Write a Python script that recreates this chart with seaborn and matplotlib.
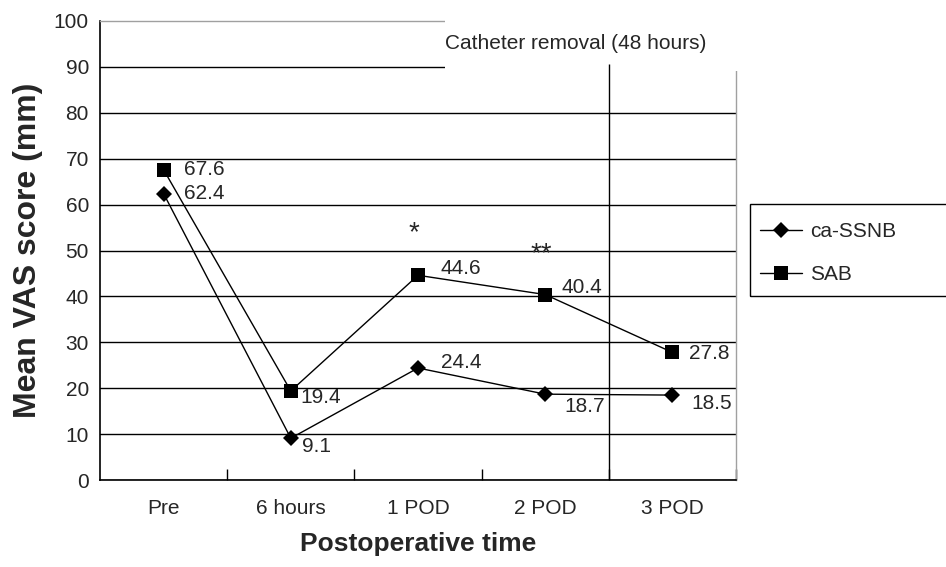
import pandas as pd
import seaborn as sns
import matplotlib.pyplot as plt
from matplotlib.patches import Rectangle
from matplotlib.lines import Line2D

# data
times = ['Pre', '6 hours', '1 POD', '2 POD', '3 POD']
ssnb = [62.4, 9.1, 24.4, 18.7, 18.5]
sab = [67.6, 19.4, 44.6, 40.4, 27.8]
groups = ['ca-SSNB', 'SAB']
stars = ['', '', '*', '**', '']

# label offsets (points) for value labels
ssnb_offs = [(15, 0), (8, -6), (16.5, 4), (14, -9), (14, -6)]
sab_offs = [(15, 0), (7, -5), (16.5, 5), (12, 5), (12, -1)]

sns.set_style('white')
plt.rcParams['font.family'] = ['Liberation Sans', 'DejaVu Sans']

df = pd.DataFrame({
  'time': times * 2,
  'score': ssnb + sab,
  'group': [groups[0]] * len(times) + [groups[1]] * len(times),
})

fig = plt.figure(figsize=(9.46, 5.67), dpi=100)
ax = fig.add_axes([100 / 946, 1 - 480 / 567, 636 / 946, 459 / 567])

sns.lineplot(data=df[df['group'] == groups[0]], x='time', y='score', color='black',
             marker='D', markersize=8.5, markeredgewidth=0, linewidth=1, sort=False, ax=ax)
sns.lineplot(data=df[df['group'] == groups[1]], x='time', y='score', color='black',
             marker='s', markersize=10.5, markeredgewidth=0, linewidth=1, sort=False, ax=ax)

for i, (v, o) in enumerate(zip(ssnb, ssnb_offs)):
  ax.annotate(f'{v}', xy=(i, v), xytext=o, textcoords='offset points',
              ha='left', va='center', fontsize=15)
for i, (v, o) in enumerate(zip(sab, sab_offs)):
  ax.annotate(f'{v}', xy=(i, v), xytext=o, textcoords='offset points',
              ha='left', va='center', fontsize=15)

# significance marks
star_y = {2: 52.3, 3: 47.7}
for i, s in enumerate(stars):
  if s:
    ax.text(i - 0.03, star_y[i], s, ha='center', va='baseline', fontsize=20)

ax.set_xlim(-0.5, 4.5)
ax.set_ylim(0, 100)
ax.set_xticks(range(len(times)))
ax.set_xticklabels(times)
ax.set_xticks([0.5, 1.5, 2.5, 3.5, 4.5], minor=True)
ax.set_yticks(range(0, 101, 10))
ax.tick_params(axis='x', which='major', length=0, pad=14, labelsize=15)
ax.tick_params(axis='x', which='minor', bottom=True, direction='in', length=8, width=1,
               color='black')
ax.tick_params(axis='y', length=0, pad=8, labelsize=15)

ax.yaxis.grid(True, color='black', linewidth=1)
ax.get_ygridlines()[-1].set_visible(False)
ax.set_axisbelow(True)

for side in ['left', 'bottom']:
  ax.spines[side].set_color('black')
  ax.spines[side].set_linewidth(1.2)
for side in ['top', 'right']:
  ax.spines[side].set_color('#a0a0a0')
  ax.spines[side].set_linewidth(1)

ax.set_xlabel('Postoperative time', fontsize=19, fontweight='bold', labelpad=10)
ax.set_ylabel('Mean VAS score (mm)', fontsize=23, fontweight='bold', labelpad=8)

# catheter removal box
ax.add_patch(Rectangle((2.212, 89.0), 2.5, 12, facecolor='white', edgecolor='none',
                       zorder=3.5, clip_on=False))
ax.vlines(3.5, 0, 90.6, color='black', linewidth=1, zorder=4)
ax.text(2.212, 95.2, 'Catheter removal (48 hours)', ha='left', va='center',
        fontsize=15, zorder=5)

handles = [
  Line2D([], [], color='black', lw=1, marker='D', markersize=8.5, markeredgewidth=0),
  Line2D([], [], color='black', lw=1, marker='s', markersize=10.5, markeredgewidth=0),
]
fig.legend(handles, groups, loc='upper left', bbox_to_anchor=(760 / 946, 1 - 222 / 567),
           frameon=False, fontsize=15, handlelength=2, handletextpad=0.4,
           labelspacing=1.15, borderpad=0, borderaxespad=0)
fig.add_artist(Rectangle((750 / 946, 1 - 296 / 567), 0.3, 92 / 567, transform=fig.transFigure,
                         fill=False, edgecolor='black', linewidth=1))

fig.savefig('out.png', dpi=100)
